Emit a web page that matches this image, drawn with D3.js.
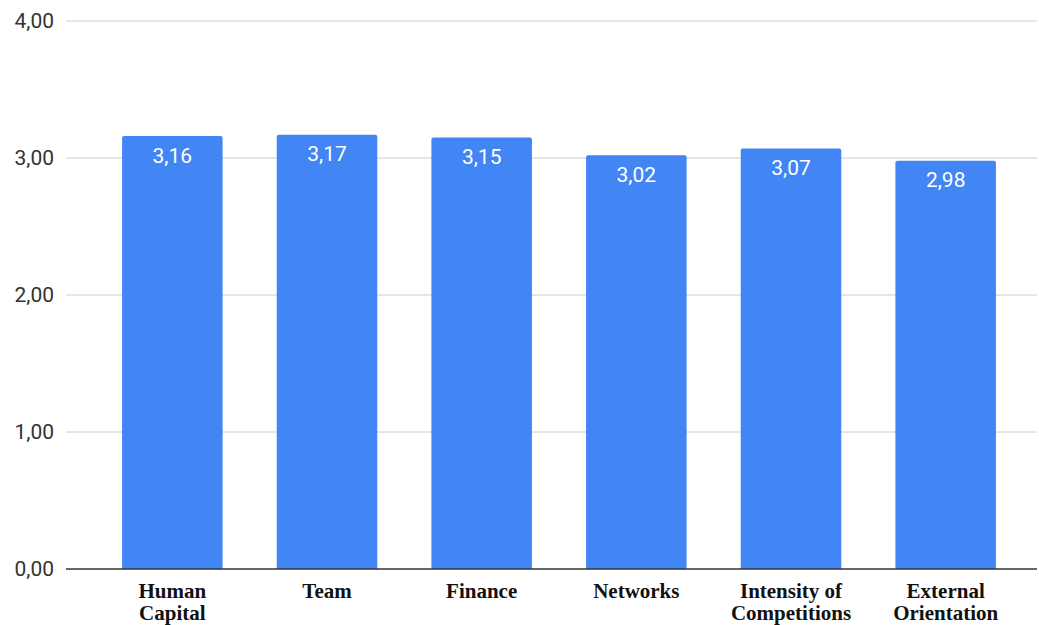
<!DOCTYPE html>
<html>
<head>
<meta charset="utf-8">
<script src="https://cdn.jsdelivr.net/npm/d3@7"></script>
<style>
  html, body { margin: 0; padding: 0; background: #fff; }
  svg { display: block; }
</style>
</head>
<body>
<div id="chart"></div>
<script>
(function () {
  'use strict';

  // categories, each split into display lines
  var categories = ['Human Capital', 'Team', 'Finance', 'Networks', 'Intensity of Competitions', 'External Orientation'];
  var labelLines = [['Human', 'Capital'], ['Team'], ['Finance'], ['Networks'], ['Intensity of', 'Competitions'], ['External', 'Orientation']];
  var values = [3.16, 3.17, 3.15, 3.02, 3.07, 2.98];
  var yTicks = [0, 1, 2, 3, 4];

  var W = 1039, H = 625;
  var fmt = function (v) { return v.toFixed(2).replace('.', ','); };

  var svg = d3.select('#chart').append('svg')
    .attr('width', W).attr('height', H);

  var x = d3.scaleBand()
    .domain(categories)
    .range([95, 1023])
    .paddingInner(0.35)
    .paddingOuter(0.175);

  var y = d3.scaleLinear().domain([0, 4]).range([569, 21]);

  /* gridlines */
  svg.append('g')
    .selectAll('line')
    .data(yTicks.filter(function (d) { return d > 0; }))
    .join('line')
    .attr('x1', 66).attr('x2', 1037)
    .attr('y1', function (d) { return y(d); })
    .attr('y2', function (d) { return y(d); })
    .attr('stroke', '#cccccc')
    .attr('stroke-width', 1);

  /* y labels */
  svg.append('g')
    .selectAll('text')
    .data(yTicks)
    .join('text')
    .attr('x', 54)
    .attr('y', function (d) { return y(d) + 7; })
    .attr('text-anchor', 'end')
    .attr('font-family', 'Roboto, Arial, sans-serif')
    .attr('font-size', 21)
    .attr('fill', '#333')
    .text(fmt);

  /* bars with slightly rounded tops */
  var r = 2;
  svg.append('g')
    .selectAll('path')
    .data(values)
    .join('path')
    .attr('fill', '#4285f4')
    .attr('d', function (d, i) {
      var x0 = x(categories[i]), x1 = x0 + x.bandwidth();
      var yt = y(d), yb = y(0);
      return 'M' + x0 + ',' + yb +
        'L' + x0 + ',' + (yt + r) +
        'Q' + x0 + ',' + yt + ' ' + (x0 + r) + ',' + yt +
        'L' + (x1 - r) + ',' + yt +
        'Q' + x1 + ',' + yt + ' ' + x1 + ',' + (yt + r) +
        'L' + x1 + ',' + yb + 'Z';
    });

  /* value labels */
  svg.append('g')
    .selectAll('text')
    .data(values)
    .join('text')
    .attr('x', function (d, i) { return x(categories[i]) + x.bandwidth() / 2; })
    .attr('y', function (d) { return y(d) + 26.5; })
    .attr('text-anchor', 'middle')
    .attr('font-family', 'Roboto, Arial, sans-serif')
    .attr('font-size', 21)
    .attr('fill', '#ffffff')
    .text(fmt);

  /* baseline */
  svg.append('line')
    .attr('x1', 66).attr('x2', 1037)
    .attr('y1', y(0)).attr('y2', y(0))
    .attr('stroke', '#333')
    .attr('stroke-width', 1.3);

  /* category labels */
  var cat = svg.append('g')
    .selectAll('text')
    .data(categories)
    .join('text')
    .attr('x', function (d) { return x(d) + x.bandwidth() / 2; })
    .attr('y', 598)
    .attr('text-anchor', 'middle')
    .attr('font-family', '"Liberation Serif", "Times New Roman", serif')
    .attr('font-weight', 'bold')
    .attr('font-size', 21)
    .attr('fill', '#111');

  cat.selectAll('tspan')
    .data(function (d, i) { return labelLines[i]; })
    .join('tspan')
    .attr('x', function () { return d3.select(this.parentNode).attr('x'); })
    .attr('dy', function (d, j) { return j === 0 ? 0 : 22; })
    .text(function (d) { return d; });
})();
</script>
</body>
</html>
